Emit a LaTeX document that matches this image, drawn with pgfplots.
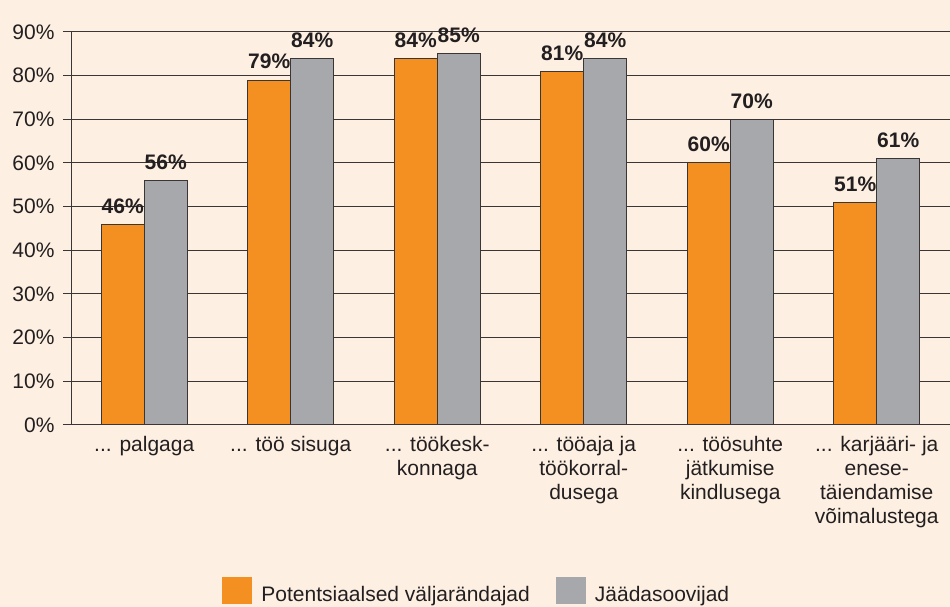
\documentclass[border=0pt]{standalone}
\usepackage{pgfplots}
\pgfplotsset{compat=1.18}
\usepackage{fontspec}
\setmainfont{Liberation Sans}
\definecolor{bg}{HTML}{FDF0E2}
\definecolor{orng}{HTML}{F39021}
\definecolor{gry}{HTML}{A7A8AB}
\definecolor{txt}{HTML}{231F20}
\definecolor{lin}{HTML}{3A3636}
\newcommand\dd{.\kern0pt.\kern0pt.}
\begin{document}
\begin{tikzpicture}[font=\fontsize{21}{24}\selectfont, text=txt]
\useasboundingbox (0,0) rectangle (950pt,607pt);
\fill[bg] (0,0) rectangle (950pt,607pt);
\clip (0,0) rectangle (950pt,607pt);
\begin{axis}[
  at={(71pt,182pt)}, anchor=south west,
  scale only axis, width=879pt, height=393pt,
  ymin=0, ymax=90, ytick={0,10,20,30,40,50,60,70,80,90},
  xmin=-0.5, xmax=5.5,
  axis x line*=bottom, axis y line*=left,
  axis line style={lin, line width=1pt},
  ymajorgrids, grid style={lin, line width=1pt},
  tick align=outside, major tick length=8pt,
  tick style={lin, line width=1pt},
  /pgf/number format/assume math mode=true,
  yticklabel={\pgfmathprintnumber{\tick}\%},
  yticklabel style={text=txt, xshift=-5pt},
  xtick={0,1,2,3,4,5}, x tick style={draw=none},
  extra x ticks={-0.5,0.5,1.5,2.5,3.5,4.5,5.5},
  extra x tick labels={},
  extra x tick style={tick style={lin, line width=1pt}, major tick length=8pt, grid=none},
  xticklabels={{\dd{} palgaga},{\dd{} töö sisuga},{\dd{} töökesk-\\konnaga},{\dd{} tööaja ja\\töökorral-\\dusega},{\dd{} töösuhte\\jätkumise\\kindlusega},{\dd{} karjääri- ja\\enese-\\täiendamise\\võimalustega}},
  xticklabel style={align=center, text=txt, font=\fontsize{21}{24}\selectfont},
  ybar=0pt, bar width=43pt,
  nodes near coords={\pgfmathprintnumber{\pgfplotspointmeta}\%},
  every node near coord/.append style={font=\fontsize{21}{24}\selectfont\bfseries, text=txt, yshift=7pt},
  legend columns=2,
  legend style={at={(0.172,-0.387)}, anchor=north west, draw=none, fill=none, inner sep=0pt,
     /tikz/every even column/.append style={column sep=24pt}, font=\fontsize{21}{24}\selectfont},
  legend image code/.code={\fill[#1, draw=none] (0pt,-10pt) rectangle (30pt,17pt); \path[draw=none, fill=none] (0pt,0pt) rectangle (37pt,1pt);},
  clip=false,
]
\addplot[fill=orng, draw=lin, line width=1pt] coordinates {(0,46) (1,79) (2,84) (3,81) (4,60) (5,51)};
\addplot[fill=gry, draw=lin, line width=1pt] coordinates {(0,56) (1,84) (2,85) (3,84) (4,70) (5,61)};
\legend{Potentsiaalsed väljarändajad, Jäädasoovijad}
\end{axis}
\end{tikzpicture}
\end{document}
